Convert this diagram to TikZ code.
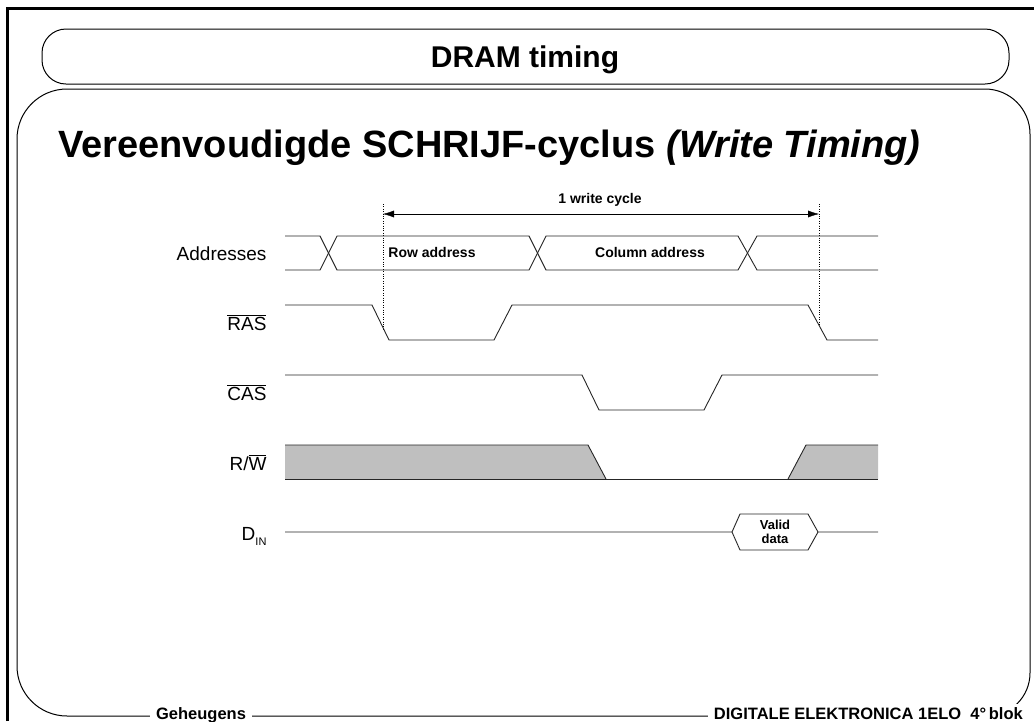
\documentclass[tikz,border=0pt]{standalone}
\usepackage{fontspec}
\setmainfont{Liberation Sans}
\usetikzlibrary{arrows.meta}

\tikzset{
  sig/.style={line width=0.9pt, draw=black!85},
  lbl/.style={anchor=base east, font=\fontsize{19}{19}\selectfont},
  tag/.style={font=\bfseries\fontsize{14}{14}\selectfont},
  foot/.style={fill=white, anchor=base, inner xsep=6pt, font=\bfseries\fontsize{16.5}{16.5}\selectfont}
}

\begin{document}
\begin{tikzpicture}[x=1pt,y=-1pt]
        \useasboundingbox (0,0) rectangle (1034,721);
        \draw[line width=3pt] (7,721) -- (7,8) -- (1034,8);
        \draw[line width=1pt, rounded corners=24pt] (42,29) rectangle (1009,84);
        \node[anchor=base, font=\bfseries\fontsize{30}{30}\selectfont] (title) at (525,67) {DRAM timing};
        \draw[line width=1pt] (17,666) -- (17,139) arc[start angle=180, end angle=270, radius=50]
            -- (985,89) arc[start angle=270, end angle=360, radius=45]
            -- (1030,673) arc[start angle=0, end angle=90, radius=43]
            -- (67,716) arc[start angle=90, end angle=180, radius=50];
        \node[foot] (chapter) at (201,719) {Geheugens};
        \node[foot, anchor=base east] (course) at (1029,719) {DIGITALE ELEKTRONICA 1ELO\ \ 4°\,blok};
        \node[anchor=base west, inner sep=0pt, font=\bfseries\fontsize{38}{38}\selectfont] (subtitle) at (58,157) {Vereenvoudigde SCHRIJF-cyclus \textit{(Write Timing)}};

        \coordinate (cycA) at (383,214);
        \coordinate (cycB) at (819,214);
        \draw[dotted] (383,204) -- (383,330);
        \draw[dotted] (819,204) -- (819,325);
        \draw[{Latex[length=11pt,width=7pt]}-{Latex[length=11pt,width=7pt]}] (cycA) -- (cycB);
        \node[tag] (cyclbl) at (600,200) {1 write cycle};

        \node[lbl] (addr) at (270,260) {Addresses};
        \draw[sig] (285,236) -- (320,236) -- (337,270) -- (529,270) -- (546,236) -- (738,236) -- (757,270) -- (878,270);
        \draw[sig] (285,270) -- (320,270) -- (337,236) -- (529,236) -- (546,270) -- (738,270) -- (757,236) -- (878,236);
        \node[tag] (rowaddr) at (432,252) {Row address};
        \node[tag] (coladdr) at (650,252) {Column address};

        \node[lbl] (ras) at (270,330) {$\overline{\hbox{RAS}}$};
        \draw[sig] (285,305) -- (372,305) -- (389,340) -- (494,340) -- (512,305) -- (808,305) -- (827,340) -- (878,340);

        \node[lbl] (cas) at (270,400) {$\overline{\hbox{CAS}}$};
        \draw[sig] (285,375) -- (582,375) -- (599,410) -- (704,410) -- (722,375) -- (878,375);

        \node[lbl] (rw) at (270,470) {R/$\overline{\hbox{W}}$};
        \fill[black!25] (285,445) -- (588,445) -- (606,479) -- (285,479) -- cycle;
        \fill[black!25] (788,479) -- (806,445) -- (878,445) -- (878,479) -- cycle;
        \draw[sig] (285,445) -- (588,445) -- (606,479);
        \draw[sig] (788,479) -- (806,445) -- (878,445);
        \draw[sig] (285,479) -- (878,479);

        \node[lbl] (din) at (270,540) {D\raisebox{-5pt}{\fontsize{11}{11}\selectfont IN}};
        \draw[sig] (285,532) -- (732,532) -- (740,514) -- (808,514) -- (818,532) -- (878,532);
        \draw[sig] (732,532) -- (740,550) -- (808,550) -- (818,532);
        \node[tag, align=center, font=\bfseries\fontsize{13}{14}\selectfont] (valid) at (775,532) {Valid\\data};
    \end{tikzpicture}
\end{document}
